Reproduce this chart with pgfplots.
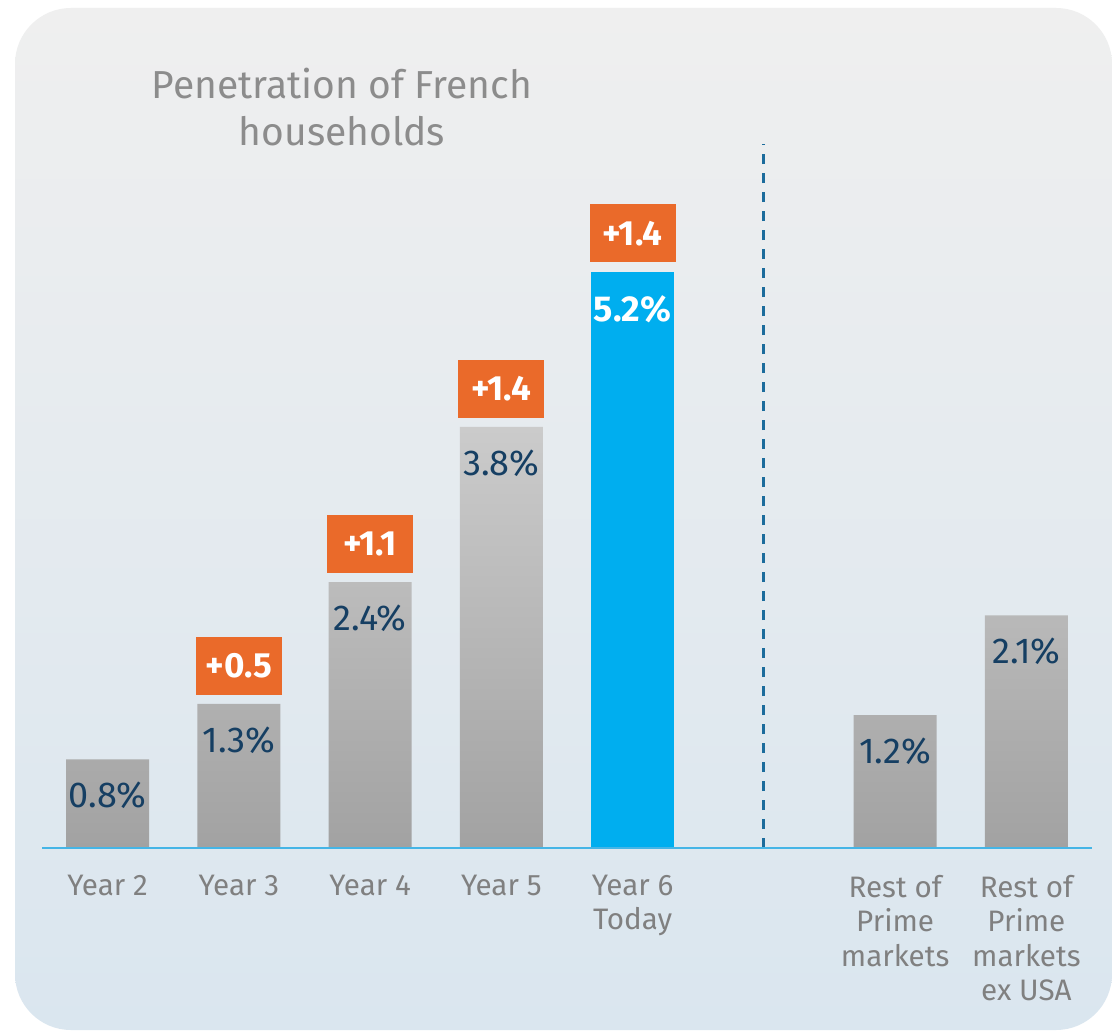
\documentclass[border=0pt]{standalone}
\usepackage{pgfplots}
\pgfplotsset{compat=1.18}
\usepackage{fontspec}
\setmainfont{Fira Sans}
\definecolor{bgTop}{HTML}{EFEFEF}
\definecolor{bgBot}{HTML}{DAE6EF}
\definecolor{barTop}{HTML}{CBCBCB}
\definecolor{barBot}{HTML}{A2A2A2}
\definecolor{primeBlue}{HTML}{00AEEF}
\definecolor{boxOrange}{HTML}{EA6A2A}
\definecolor{navy}{HTML}{163F63}
\definecolor{axisBlue}{HTML}{45B5E6}
\definecolor{dashBlue}{HTML}{1C6C9C}
\definecolor{tickGray}{HTML}{808080}
\definecolor{titleGray}{HTML}{8C8C8C}
\pgfplotstableread{
x y
0 0.8
1 1.3
2 2.4
3 3.8
6 1.2
7 2.1
}\greybars
\pgfplotstableread{
x y
4 5.2
}\bluebar
\pgfplotstableread{
x y d
1 1.3 0.5
2 2.4 1.1
3 3.8 1.4
4 5.2 1.4
}\deltas
\begin{document}
\begin{tikzpicture}
\fill[white] (0pt,0pt) rectangle (556pt,515pt);
\shade[top color=bgTop, bottom color=bgBot, rounded corners=28pt] (7.5pt,0pt) rectangle (556pt,511pt);
\node[text=titleGray, align=center, font=\fontsize{19.5}{23.5}\selectfont] at (171pt,461.5pt) {Penetration of French\\households};
\begin{axis}[
  at={(21pt,91pt)}, anchor=south west,
  scale only axis, width=525pt, height=387.8pt,
  xmin=-0.5, xmax=7.5, ymin=0, ymax=7,
  clip=false, axis on top,
  axis x line*=bottom, axis y line=none,
  axis line style={draw=axisBlue, line width=1pt, -},
  xtick={0,1,2,3,4,6,7},
  xticklabels={{Year 2},{Year 3},{Year 4},{Year 5},{Year 6\\Today},{Rest of\\Prime\\markets},{Rest of\\Prime\\markets\\ex USA}},
  major tick length=0pt,
  xticklabel style={align=center, text=tickGray, font=\fontsize{14.8}{17.25}\selectfont, anchor=north, yshift=-10pt},
  ytick=\empty,
]
\addplot[ybar, bar width=41.5pt, bar shift=0pt, draw=none, top color=barTop, bottom color=barBot,
  point meta=y, nodes near coords={\pgfmathprintnumber[fixed, fixed zerofill, precision=1, assume math mode=true]{\pgfplotspointmeta}\%},
  nodes near coords style={anchor=center, yshift=-18pt, text=navy, font=\fontsize{18}{20}\selectfont}]
  table[x=x, y=y] {\greybars};
\addplot[ybar, bar width=41.5pt, bar shift=0pt, draw=none, fill=primeBlue,
  point meta=y, nodes near coords={\pgfmathprintnumber[fixed, fixed zerofill, precision=1, assume math mode=true]{\pgfplotspointmeta}\%},
  nodes near coords style={anchor=center, yshift=-18.5pt, text=white, font=\fontsize{18}{20}\selectfont\bfseries}]
  table[x=x, y=y] {\bluebar};
\addplot[draw=none, mark=none,
  point meta=explicit, nodes near coords={+\pgfmathprintnumber[fixed, fixed zerofill, precision=1, assume math mode=true]{\pgfplotspointmeta}},
  nodes near coords style={anchor=south, yshift=4.5pt, fill=boxOrange, text=white, minimum width=43pt, minimum height=29pt, inner sep=0pt, font=\fontsize{17.5}{20}\selectfont\bfseries}]
  table[x=x, y=y, meta=d] {\deltas};
\addplot[draw=dashBlue, line width=1.5pt, dash pattern=on 5pt off 4.5pt, mark=none] coordinates {(5,0) (5,6.35)};
\end{axis}
\end{tikzpicture}
\end{document}
